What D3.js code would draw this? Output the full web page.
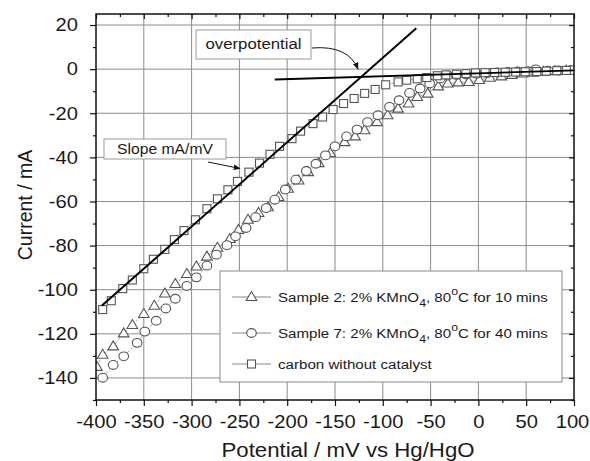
<!DOCTYPE html>
<html>
<head>
<meta charset="utf-8">
<script src="https://cdn.jsdelivr.net/npm/d3@7/dist/d3.min.js"></script>
<style>
  body { margin: 0; background: #fff; }
  svg { font-family: "Liberation Sans", Arial, sans-serif; }
</style>
</head>
<body>
<div id="chart"></div>
<script>
'use strict';

// carbon without catalyst (squares)
var carbonX = [-393, -384, -372, -362, -350, -340, -328, -318, -308, -296, -284, -273, -262, -252, -240, -229,
  -218, -208, -195, -186, -173, -163, -152, -141, -130, -119, -108, -97, -84, -75, -64, -54, -43, -34, -23,
  -13, -3, 7, 17, 28, 39, 49, 61, 71, 82, 92];
var carbonY = [-109, -105, -99.5, -95.6, -90.5, -86.2, -81.7, -77.3, -73.2, -68.3, -63.3, -58.8, -54.7, -50.9,
  -46.7, -42.6, -38.6, -35.0, -31.5, -28.1, -24.7, -21.7, -18.3, -15.6, -13.3, -11.0, -9.2, -7.1, -5.8, -5.0,
  -4.4, -3.8, -3.0, -2.6, -2.3, -2.0, -1.7, -1.6, -1.5, -1.4, -1.3, -1.2, -1.1, -0.9, -0.7, -0.6];

// Sample 2 (triangles)
var sample2X = [-399, -393, -382, -371, -362, -350, -339, -328, -317, -305, -295, -284, -273, -260, -251, -241,
  -230, -220, -209, -199, -188, -178, -167, -155, -140, -129, -119, -106, -95, -84, -73, -64, -53, -42, -32,
  -21, -10, 1, 12, 24, 35, 46, 57, 68, 80, 92];
var sample2Y = [-135, -129.5, -125.7, -119.8, -116.0, -111.0, -107.3, -101.7, -97.4, -92.9, -89.5, -85.0, -81.0,
  -77.0, -72.9, -68.3, -65.2, -62.6, -58.0, -54.2, -50.5, -46.7, -42.6, -38.0, -33.1, -30.5, -27.7, -24.0,
  -20.9, -17.9, -15.6, -12.6, -11.1, -7.8, -6.5, -6.0, -5.8, -4.9, -3.9, -3.3, -2.6, -2.0, -1.6, -1.2, -0.9, -0.7];

// Sample 7 (circles)
var sample7X = [-393, -382, -371, -357, -349, -337, -327, -317, -305, -295, -284, -274, -263, -254, -243, -233,
  -222, -213, -202, -191, -180, -170, -160, -150, -138, -127, -116, -105, -93, -83, -72, -61, -51, -40, -32,
  -23, -13, -2, 9, 20, 31, 41, 52, 60, 73, 84, 97];
var sample7Y = [-139.9, -134.1, -130.2, -124.1, -119.0, -114.1, -108.5, -104.1, -98.3, -94.4, -89.1, -84.1,
  -79.8, -75.8, -72.0, -67.1, -63.0, -59.2, -54.6, -50.1, -46.2, -42.9, -39.1, -35.0, -30.5, -27.4, -24.0,
  -20.9, -17.1, -14.1, -10.8, -8.8, -6.5, -4.2, -2.9, -2.7, -2.4, -2.1, -1.8, -1.5, -1.3, -1.1, -0.9, -0.1,
  -0.7, -0.6, -0.4];

// fitted straight lines [x, y]
var slopeLine = [[-394, -107.3], [-65, 18.5]];
var overLine = [[-213, -4.7], [100, -0.6]];

var xMajor = [-400, -350, -300, -250, -200, -150, -100, -50, 0, 50, 100];
var xMinor = [-375, -325, -275, -225, -175, -125, -75, -25, 25, 75];
var yMajor = [-140, -120, -100, -80, -60, -40, -20, 0, 20];
var yMinor = [-150, -130, -110, -90, -70, -50, -30, -10, 10];

var W = 590, H = 461
  , pL = 96, pR = 574, pT = 14, pB = 400    // plot box edges
  , sx = 1.12                               // horizontal text stretch of the original
  , textColor = '#1a1a1a'
  , markColor = '#555';

var x = d3.scaleLinear().domain([-400, 100]).range([pL, pR]);
var y = d3.scaleLinear().domain([-150, 25]).range([pB, pT]);

var svg = d3.select('#chart').append('svg')
  .attr('width', W)
  .attr('height', H);

// widen a text element horizontally around its own anchor x
function stretch(t, k) {
  var ax = +t.attr('x') || 0;
  t.attr('transform', 'translate(' + ax + ',0) scale(' + (k || sx) + ',1) translate(' + (-ax) + ',0)');
  return t;
}

var defs = svg.append('defs');
defs.append('clipPath').attr('id', 'plot')
  .append('rect')
    .attr('x', pL).attr('y', pT)
    .attr('width', pR - pL).attr('height', pB - pT);

var marker = defs.append('marker')
  .attr('id', 'arrow')
  .attr('viewBox', '0 0 10 10')
  .attr('refX', 9).attr('refY', 5)
  .attr('markerWidth', 7).attr('markerHeight', 7)
  .attr('markerUnits', 'userSpaceOnUse')
  .attr('orient', 'auto');
marker.append('path').attr('d', 'M0,1 L10,5 L0,9 Z').attr('fill', '#111');

// grid
var grid = svg.append('g').attr('stroke', '#8c8c8c').attr('stroke-width', 1);
grid.selectAll('line.gx').data(xMajor.slice(1, -1)).enter().append('line')
  .attr('x1', function (d) { return x(d); }).attr('x2', function (d) { return x(d); })
  .attr('y1', pT).attr('y2', pB);
grid.selectAll('line.gy').data(yMajor).enter().append('line')
  .attr('y1', function (d) { return y(d); }).attr('y2', function (d) { return y(d); })
  .attr('x1', pL).attr('x2', pR);

// axes
function styleAxis(g) {
  g.select('.domain').remove();
  g.selectAll('line').attr('stroke', '#111').attr('stroke-width', 1.2);
  g.selectAll('text').attr('fill', textColor).style('font-size', '18px')
    .style('font-family', '"Liberation Sans", Arial, sans-serif')
    .each(function () { stretch(d3.select(this)); });
}
var fmt = function (d) { return String(d); };

var xAxisG = svg.append('g').attr('transform', 'translate(0,' + pB + ')')
  .call(d3.axisBottom(x).tickValues(xMajor).tickFormat(fmt).tickSize(6).tickPadding(9))
  .call(styleAxis);
// keep the last label inside the page
xAxisG.selectAll('.tick').filter(function (d) { return d === 100; }).select('text')
  .attr('x', -2).call(stretch);

svg.append('g').attr('transform', 'translate(0,' + pB + ')')
  .call(d3.axisBottom(x).tickValues(xMinor).tickFormat('').tickSize(3))
  .call(styleAxis);
svg.append('g').attr('transform', 'translate(0,' + pT + ')')
  .call(d3.axisTop(x).tickValues(xMajor).tickFormat('').tickSize(-5))
  .call(styleAxis);
svg.append('g').attr('transform', 'translate(0,' + pT + ')')
  .call(d3.axisTop(x).tickValues(xMinor).tickFormat('').tickSize(-3))
  .call(styleAxis);

svg.append('g').attr('transform', 'translate(' + pL + ',0)')
  .call(d3.axisLeft(y).tickValues(yMajor).tickFormat(fmt).tickSize(6).tickPadding(12))
  .call(styleAxis);
svg.append('g').attr('transform', 'translate(' + pL + ',0)')
  .call(d3.axisLeft(y).tickValues(yMinor).tickFormat('').tickSize(3))
  .call(styleAxis);
svg.append('g').attr('transform', 'translate(' + pR + ',0)')
  .call(d3.axisRight(y).tickValues(yMajor).tickFormat('').tickSize(-5))
  .call(styleAxis);
svg.append('g').attr('transform', 'translate(' + pR + ',0)')
  .call(d3.axisRight(y).tickValues(yMinor).tickFormat('').tickSize(-3))
  .call(styleAxis);

// axis titles
stretch(svg.append('text')
  .attr('x', 348).attr('y', 457)
  .attr('text-anchor', 'middle').attr('fill', textColor)
  .style('font-size', '19.5px')
  .text('Potential / mV vs Hg/HgO'), 1.14);
svg.append('text')
  .attr('transform', 'translate(32,' + 205 + ') rotate(-90)')
  .attr('text-anchor', 'middle').attr('fill', textColor)
  .style('font-size', '19.5px')
  .text('Current / mA');

// series
var plot = svg.append('g').attr('clip-path', 'url(#plot)');

var series = [
  { xs: sample2X, ys: sample2Y, shape: 'triangle' },
  { xs: sample7X, ys: sample7Y, shape: 'circle' },
  { xs: carbonX, ys: carbonY, shape: 'square' }
];

var line = d3.line()
  .x(function (d) { return x(d[0]); })
  .y(function (d) { return y(d[1]); });

function drawMark(g, shape, cx, cy) {
  if (shape === 'square') {
    g.append('rect').attr('x', cx - 4).attr('y', cy - 4).attr('width', 8).attr('height', 8);
  } else if (shape === 'circle') {
    g.append('ellipse').attr('cx', cx).attr('cy', cy).attr('rx', 4.8).attr('ry', 4.4);
  } else {
    g.append('path').attr('d', 'M' + cx + ',' + (cy - 5.5) + 'L' + (cx + 5.3) + ',' + (cy + 3.5) +
      'L' + (cx - 5.3) + ',' + (cy + 3.5) + 'Z');
  }
}

series.forEach(function (s) {
  var pts = s.xs.map(function (v, i) { return [v, s.ys[i]]; });
  plot.append('path')
    .attr('d', line(pts))
    .attr('fill', 'none')
    .attr('stroke', '#999')
    .attr('stroke-width', 0.8)
    .attr('stroke-dasharray', '3,2');
  var g = plot.append('g')
    .attr('fill', '#fff')
    .attr('stroke', markColor)
    .attr('stroke-width', 1.1);
  pts.forEach(function (p) { drawMark(g, s.shape, x(p[0]), y(p[1])); });
});

// fitted lines
plot.append('path').attr('d', line(slopeLine))
  .attr('stroke', '#000').attr('stroke-width', 2).attr('fill', 'none');
plot.append('path').attr('d', line(overLine))
  .attr('stroke', '#000').attr('stroke-width', 1.8).attr('fill', 'none');

// plot frame
svg.append('rect')
  .attr('x', pL).attr('y', pT).attr('width', pR - pL).attr('height', pB - pT)
  .attr('fill', 'none').attr('stroke', '#111').attr('stroke-width', 1.5);

// annotations
function labelBox(x0, y0, w, h, txt, size) {
  svg.append('rect')
    .attr('x', x0).attr('y', y0).attr('width', w).attr('height', h)
    .attr('fill', '#fff').attr('stroke', '#999').attr('stroke-width', 1);
  stretch(svg.append('text')
    .attr('x', x0 + w / 2).attr('y', y0 + h / 2 + 5)
    .attr('text-anchor', 'middle').attr('fill', textColor)
    .style('font-size', size + 'px')
    .text(txt));
}
labelBox(196, 30, 115, 29, 'overpotential', 15);
labelBox(104, 139, 122, 20, 'Slope mA/mV', 14);

svg.append('path')
  .attr('d', 'M312,48 Q348,45 358,69')
  .attr('fill', 'none').attr('stroke', '#111').attr('stroke-width', 1)
  .attr('marker-end', 'url(#arrow)');
svg.append('path')
  .attr('d', 'M208,162 L240,168.5')
  .attr('fill', 'none').attr('stroke', '#111').attr('stroke-width', 1)
  .attr('marker-end', 'url(#arrow)');

// legend
var legend = svg.append('g');
legend.append('rect')
  .attr('x', 220).attr('y', 271).attr('width', 342).attr('height', 111)
  .attr('fill', '#fff').attr('stroke', '#888').attr('stroke-width', 1);

var legendRows = [
  { shape: 'triangle', y: 297, parts: ['Sample 2: 2% KMnO', '4', ', 80', 'o', 'C for 10 mins'] },
  { shape: 'circle', y: 333, parts: ['Sample 7: 2% KMnO', '4', ', 80', 'o', 'C for 40 mins'] },
  { shape: 'square', y: 364, parts: ['carbon without catalyst'] }
];

legendRows.forEach(function (r) {
  legend.append('line').attr('x1', 232).attr('x2', 271).attr('y1', r.y).attr('y2', r.y)
    .attr('stroke', '#888').attr('stroke-width', 1);
  var g = legend.append('g').attr('fill', '#fff').attr('stroke', markColor).attr('stroke-width', 1.1);
  drawMark(g, r.shape, 251.5, r.y);
  var t = legend.append('text')
    .attr('x', 278).attr('y', r.y + 5)
    .attr('fill', textColor)
    .style('font-size', '13.5px');
  if (r.parts.length === 1) {
    t.text(r.parts[0]);
  } else {
    t.append('tspan').text(r.parts[0]);
    t.append('tspan').attr('dy', 5).style('font-size', '11px').text(r.parts[1]);
    t.append('tspan').attr('dy', -5).text(r.parts[2]);
    t.append('tspan').attr('dy', -7).style('font-size', '11px').text(r.parts[3]);
    t.append('tspan').attr('dy', 7).text(r.parts[4]);
  }
  stretch(t, 1.12);
});
</script>
</body>
</html>
